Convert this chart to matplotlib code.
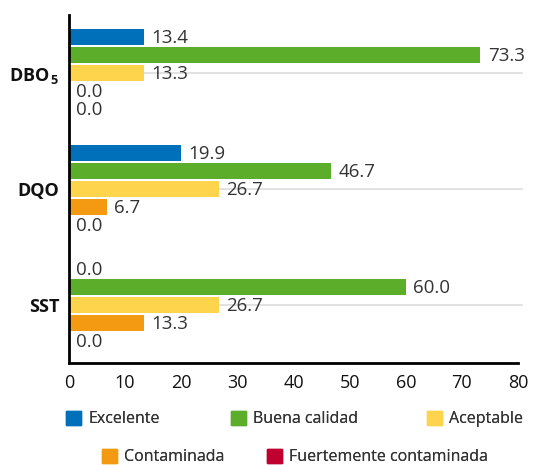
import matplotlib
matplotlib.use("Agg")
import matplotlib.pyplot as plt
from matplotlib.patches import Patch
import numpy as np

categories = ["DBO$_{\\,5}$", "DQO", "SST"]
series = ["Excelente", "Buena calidad", "Aceptable", "Contaminada", "Fuertemente contaminada"]
values = {
    "Excelente": [13.4, 19.9, 0.0],
    "Buena calidad": [73.3, 46.7, 60.0],
    "Aceptable": [13.3, 26.7, 26.7],
    "Contaminada": [0.0, 6.7, 13.3],
    "Fuertemente contaminada": [0.0, 0.0, 0.0],
}
colors = ["#0070BA", "#5BAD2A", "#FFD44D", "#F39A12", "#C0002E"]
xticks = [0, 10, 20, 30, 40, 50, 60, 70, 80]

plt.rcParams['font.family'] = ['Open Sans', 'DejaVu Sans']
plt.rcParams['mathtext.fontset'] = 'custom'
plt.rcParams['mathtext.rm'] = 'Open Sans:bold'
plt.rcParams['mathtext.it'] = 'Open Sans:bold'
plt.rcParams['mathtext.bf'] = 'Open Sans:bold'

fig = plt.figure(figsize=(5.35, 4.65), dpi=100)
ax = fig.add_axes([69/535, 1 - 363/465, (518-69)/535, (363-15)/465])

y = np.arange(len(categories))
step = 0.155
h = 0.144
for i, s in enumerate(series):
    pos = y + (i - 2) * step
    ax.barh(pos, values[s], height=h, color=colors[i], zorder=2)
    for p, v in zip(pos, values[s]):
        ax.text(v + 1.3, p + 0.01, f"{v:.1f}", va="center", ha="left",
                fontsize=13.5, fontweight="normal", color="#333333", zorder=3)

ax.set_ylim(2.5, -0.5)
ax.set_xlim(0, 80)
ax.set_yticks(y)
ax.set_yticklabels(categories, fontsize=13, fontweight="bold", color="#111111")
ax.set_xticks(xticks)
ax.set_xticklabels([str(t) for t in xticks], fontsize=13, color="#111111")
ax.tick_params(length=0, pad=8)
ax.tick_params(axis="y", pad=7)
for g in y:
    ax.plot([0, 80.8], [g, g], color="#DDDDDD", lw=1.2, zorder=1, clip_on=False)
for sp in ["top", "right"]:
    ax.spines[sp].set_visible(False)
ax.spines["left"].set_linewidth(2)
ax.spines["bottom"].set_linewidth(2)

leg_pos = [(66, 419), (231, 419), (427, 419), (102, 457), (267, 457)]
for i, s in enumerate(series):
    lx, ly = leg_pos[i]
    leg = fig.legend(handles=[Patch(color=colors[i], label=s)], loc="center left",
                     bbox_to_anchor=(lx/535, 1 - ly/465), frameon=False,
                     handlelength=0.95, handleheight=0.95, handletextpad=0.45,
                     borderaxespad=0, borderpad=0, prop={"weight": "normal", "size": 11.5})
    for t in leg.get_texts():
        t.set_color("#333333")
    fig.add_artist(leg)

fig.savefig("out.png", dpi=100)
